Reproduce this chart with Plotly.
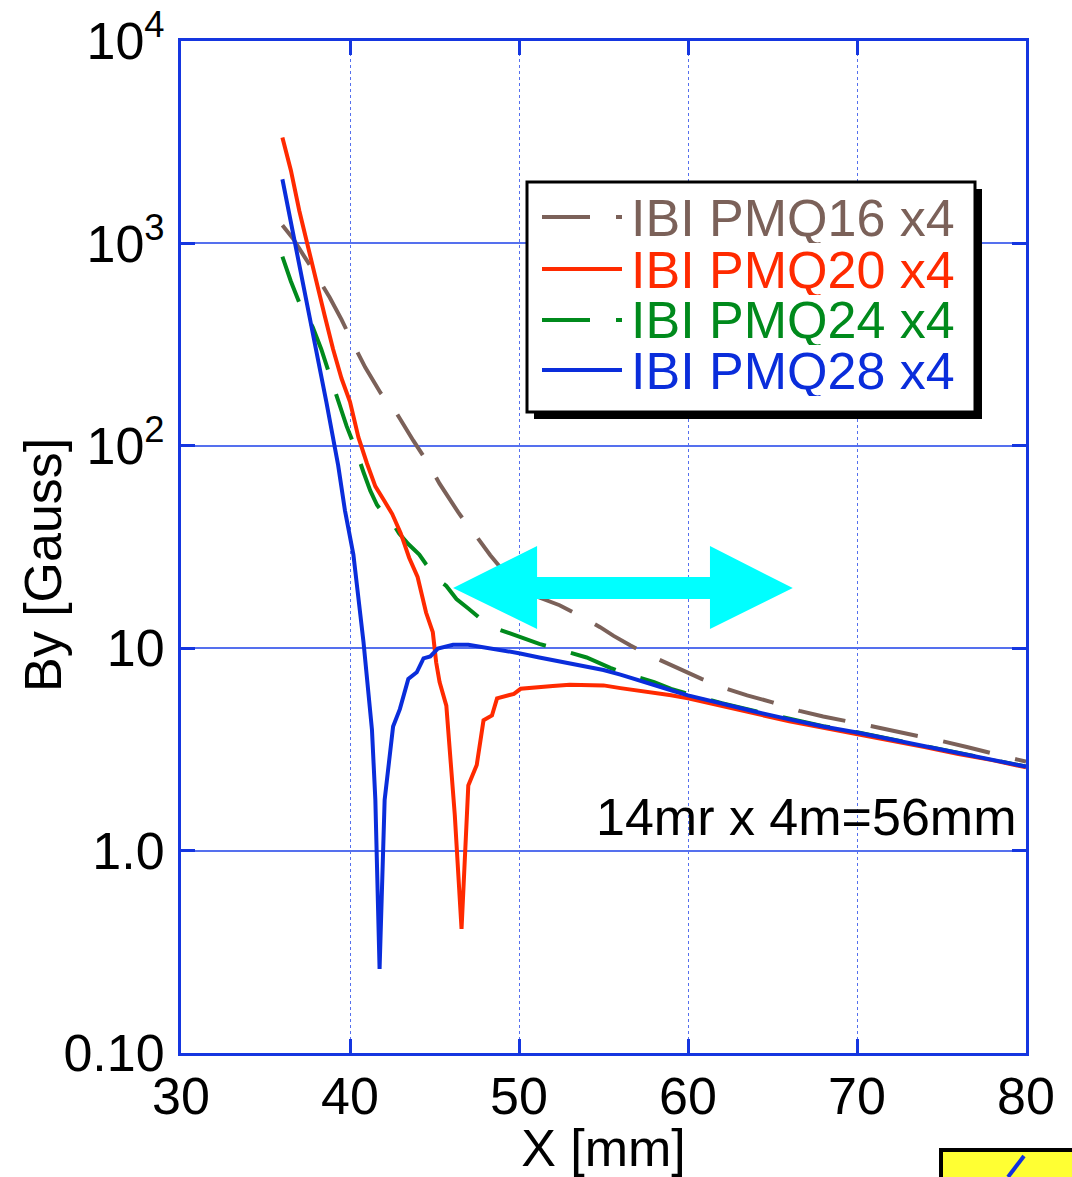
import plotly.graph_objects as go

# ---------------- data ----------------
x_pmq16 = [36.0, 36.65, 37.3, 37.9, 38.8, 39.5, 40.2, 40.9, 41.8, 42.8, 43.75, 44.7, 45.3, 45.8,
           46.4, 47.0, 47.5, 48.3, 49.0, 50.0, 51.2, 52.4, 53.8, 54.8, 55.6, 56.6, 58.0, 59.5,
           60.8, 62.3, 63.5, 65.0, 66.6, 68.0, 69.4, 70.8, 72.2, 73.6, 75.0, 76.5, 77.9, 79.2, 80.0]
y_pmq16 = [1230, 1050, 860, 720, 540, 420, 318, 244, 183, 143, 106, 80, 65, 56,
           47, 40, 35.5, 28.8, 24.5, 20.5, 17.8, 16.3, 14.2, 12.7, 11.5, 10.3, 9.0, 7.9,
           7.05, 6.3, 5.85, 5.4, 4.9, 4.6, 4.38, 4.13, 3.9, 3.69, 3.48, 3.25, 3.05, 2.85, 2.75]

x_pmq20 = [36.0, 36.5, 37.0, 37.5, 38.0, 38.5, 39.0, 39.5, 40.0, 40.5, 41.0, 41.5, 42.0, 42.5,
           43.0, 43.5, 44.0, 44.5, 44.9, 45.1, 45.3, 45.7, 46.2, 46.6, 47.0, 47.5, 47.9, 48.4,
           48.7, 49.7, 50.1, 51.2, 52.0, 53.0, 54.0, 55.0, 56.0, 57.0, 58.0, 59.0, 60.0, 62.0,
           64.0, 66.0, 68.0, 70.0, 72.0, 74.0, 76.0, 78.0, 80.0]
y_pmq20 = [3340, 2300, 1450, 960, 650, 440, 300, 215, 165, 110, 82, 63, 54, 46,
           37, 28, 22.5, 15, 12, 8.5, 6.8, 5.2, 1.5, 0.41, 2.1, 2.65, 4.4, 4.65,
           5.65, 5.95, 6.3, 6.45, 6.5, 6.6, 6.6, 6.55, 6.35, 6.2, 6.0, 5.85, 5.65, 5.2,
           4.75, 4.35, 4.05, 3.75, 3.5, 3.25, 3.0, 2.8, 2.58]

x_pmq24 = [36.0, 36.5, 37.0, 37.8, 38.3, 38.8, 39.3, 39.8, 40.3, 40.8, 41.2, 41.6, 42.0, 42.4,
           42.9, 43.45, 44.1, 44.5, 44.9, 45.3, 45.7, 46.3, 47.0, 47.5, 47.9, 48.9, 49.8, 51.2,
           52.5, 54.0, 55.4, 56.5, 58.0, 59.0, 60.0, 62.0, 64.0, 66.0, 68.0, 70.0, 72.0, 74.0,
           76.0, 78.0, 80.0]
y_pmq24 = [860, 650, 510, 385, 300, 220, 167, 125, 98, 74, 60, 51, 46, 43,
           37, 32.7, 29, 26, 23.8, 21.5, 20.3, 17.5, 15.7, 14.5, 13.6, 12.3, 11.6, 10.5,
           9.8, 9.0, 8.0, 7.4, 6.8, 6.3, 5.95, 5.35, 4.88, 4.47, 4.12, 3.84, 3.56, 3.29,
           3.03, 2.83, 2.6]

x_pmq28 = [36.0, 36.75, 37.4, 38.0, 38.6, 39.3, 39.7, 40.2, 40.8, 41.3, 41.5, 41.75, 42.05, 42.55,
           42.95, 43.45, 43.95, 44.35, 44.75, 45.2, 46.1, 47.0, 48.0, 49.0, 50.0, 51.2, 52.5, 54.0,
           55.0, 56.0, 57.0, 58.0, 59.0, 60.0, 62.0, 64.0, 66.0, 68.0, 70.0, 72.0, 74.0, 76.0,
           78.0, 80.0]
y_pmq28 = [2075, 1000, 540, 290, 165, 80, 48, 29, 10.7, 3.95, 1.78, 0.26, 1.78, 4.1,
           5.0, 7.05, 7.6, 8.9, 9.1, 9.95, 10.4, 10.4, 10.1, 9.8, 9.45, 9.0, 8.6, 8.1,
           7.8, 7.4, 7.0, 6.55, 6.2, 5.85, 5.3, 4.85, 4.45, 4.1, 3.83, 3.55, 3.28, 3.02,
           2.82, 2.6]

series_names = ["IBI PMQ16 x4", "IBI PMQ20 x4", "IBI PMQ24 x4", "IBI PMQ28 x4"]
series_colors = ["#7b6159", "#ff2a00", "#008a1c", "#0a2ddb"]
series_dash = ["48px,26px", "solid", "48px,26px", "solid"]

y_tickvals = [0.1, 1, 10, 100, 1000, 10000]
y_ticktext = ["0.10", "1.0", "10", "10<sup>2</sup>", "10<sup>3</sup>", "10<sup>4</sup>"]
x_tickvals = [30, 40, 50, 60, 70, 80]

# arrow extent (data x) and note text
arrow_x = [46.1, 51.07, 61.3, 66.2]
note_text = "14mr x 4m=56mm"
x_title = "X [mm]"
y_title = "By [Gauss]"

FONT = "Liberation Sans, Arial, Helvetica, sans-serif"
AXIS_BLUE = "#1536e0"
GRID_BLUE = "#5570ee"

fig = go.Figure()
xs = [x_pmq16, x_pmq20, x_pmq24, x_pmq28]
ys = [y_pmq16, y_pmq20, y_pmq24, y_pmq28]
# draw order: brown, green, red, blue
for i in [0, 2, 1, 3]:
    fig.add_trace(go.Scatter(
        x=xs[i], y=ys[i], mode="lines", name=series_names[i], showlegend=False,
        line=dict(color=series_colors[i], width=4, dash=series_dash[i]),
    ))

fig.update_layout(
    width=1072, height=1177,
    margin=dict(l=181, r=46, t=41, b=124, autoexpand=False),
    paper_bgcolor="white", plot_bgcolor="white",
    font=dict(family=FONT, size=52, color="black"),
    showlegend=False,
)
fig.update_xaxes(
    range=[30, 80], tickvals=x_tickvals, ticktext=[str(v) for v in x_tickvals],
    showline=True, linecolor=AXIS_BLUE, linewidth=3, mirror="ticks",
    ticks="inside", ticklen=14, tickwidth=3, tickcolor=AXIS_BLUE,
    showgrid=True, gridcolor=GRID_BLUE, gridwidth=1.2, griddash="dot",
    zeroline=False, tickfont=dict(size=52), ticklabelstandoff=-4, automargin=False,
    title=dict(text=x_title, font=dict(size=52), standoff=0),
)
fig.update_yaxes(
    type="log", range=[-1, 4], tickvals=y_tickvals, ticktext=y_ticktext,
    showline=True, linecolor=AXIS_BLUE, linewidth=3, mirror="ticks",
    ticks="inside", ticklen=14, tickwidth=3, tickcolor=AXIS_BLUE,
    showgrid=True, gridcolor=GRID_BLUE, gridwidth=1.5,
    zeroline=False, tickfont=dict(size=52), ticklabelstandoff=3, automargin=False,
)

# pixel -> paper helpers (plot area 845 x 1012 px, origin at 181,1053)
PW, PH = 845.0, 1012.0
def px(p):
    return (p - 181) / PW
def py(p):
    return (1053 - p) / PH

# y axis title
fig.add_annotation(xref="paper", yref="paper", x=px(43), y=py(565),
                   text=y_title, textangle=-90, showarrow=False,
                   xanchor="center", yanchor="middle",
                   font=dict(size=52, color="black", family=FONT))

# cyan double arrow
ax0, ax1, ax2, ax3 = arrow_x
yc, yh_t, yh_b, ys_t, ys_b = 0.4595, 0.5010, 0.4190, 0.4704, 0.4486
path = (f"M {ax0},{yc} L {ax1},{yh_t} L {ax1},{ys_t} L {ax2},{ys_t} L {ax2},{yh_t} "
        f"L {ax3},{yc} L {ax2},{yh_b} L {ax2},{ys_b} L {ax1},{ys_b} L {ax1},{yh_b} Z")
fig.add_shape(type="path", path=path, xref="x", yref="paper",
              fillcolor="#00ffff", line=dict(width=0), layer="above")

# manual legend box with shadow
fig.add_shape(type="rect", xref="paper", yref="paper",
              x0=px(534), x1=px(982), y0=py(419), y1=py(189),
              fillcolor="black", line=dict(width=0), layer="above")
fig.add_shape(type="rect", xref="paper", yref="paper",
              x0=px(527), x1=px(975), y0=py(412), y1=py(182),
              fillcolor="white", line=dict(color="black", width=3), layer="above")
row_y = [217, 269, 320, 370]
for i in range(4):
    fig.add_shape(type="line", xref="paper", yref="paper",
                  x0=px(542), x1=px(622), y0=py(row_y[i]), y1=py(row_y[i]),
                  line=dict(color=series_colors[i], width=4, dash=series_dash[i]),
                  layer="above")
    fig.add_annotation(xref="paper", yref="paper", x=px(629), y=py(row_y[i]),
                       text=series_names[i], showarrow=False, xanchor="left", yanchor="middle",
                       height=51, valign="middle",
                       font=dict(size=52, color=series_colors[i], family=FONT))

# note text
fig.add_annotation(xref="paper", yref="paper", x=px(1018), y=py(817),
                   text=note_text, showarrow=False, xanchor="right", yanchor="middle",
                   font=dict(size=52, color="black", family=FONT))

# partial yellow box at bottom-right corner
fig.add_shape(type="rect", xref="paper", yref="paper",
              x0=px(941), x1=px(1090), y0=py(1195), y1=py(1150),
              fillcolor="#ffff33", line=dict(color="black", width=4), layer="above")
fig.add_shape(type="line", xref="paper", yref="paper",
              x0=px(1008), x1=px(1024), y0=py(1177), y1=py(1156),
              line=dict(color="#1030e0", width=4), layer="above")

fig.write_html("out.html")
